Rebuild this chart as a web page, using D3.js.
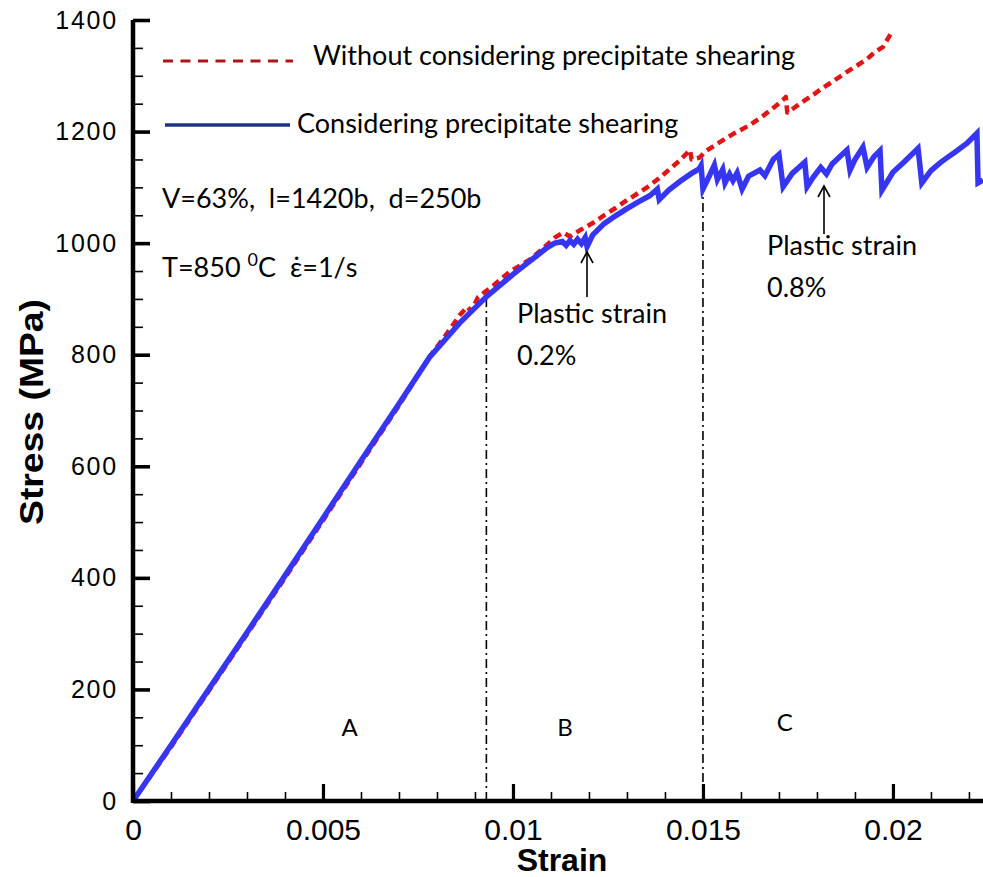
<!DOCTYPE html>
<html>
<head>
<meta charset="utf-8">
<script src="https://cdn.jsdelivr.net/npm/d3@7/dist/d3.min.js"></script>
<style>
  html, body { margin: 0; padding: 0; background: #fff; }
  svg { display: block; }
  .ann { font-family: Lato, "Open Sans", sans-serif; fill: #000; }
</style>
</head>
<body>
<svg id="chart" width="983" height="877"></svg>
<script>
// ---------- data ----------
const blueStrain = [0, 0.001, 0.002, 0.003, 0.004, 0.005, 0.006, 0.007, 0.0078, 0.0082, 0.0086, 0.009, 0.0093,
  0.0096, 0.0100, 0.0103, 0.0106, 0.0109, 0.0111, 0.0113, 0.0114, 0.0115, 0.0116, 0.0117, 0.0118, 0.0119, 0.01195,
  0.0121, 0.0124, 0.0127, 0.0130, 0.0133, 0.0136, 0.0138, 0.01385, 0.0141, 0.0144, 0.0147, 0.0149, 0.01495,
  0.0150, 0.01515, 0.0153, 0.01538, 0.01552, 0.01558, 0.0157, 0.01579, 0.0159, 0.01603, 0.0162, 0.0165, 0.01663,
  0.01685, 0.0170, 0.01711, 0.01735, 0.01768, 0.01774, 0.0179, 0.0181, 0.01825, 0.0184, 0.0186, 0.01879, 0.01887,
  0.0190, 0.01921, 0.01932, 0.0195, 0.01966, 0.01971, 0.0200, 0.0203, 0.02066, 0.02076, 0.0210, 0.02124, 0.0214,
  0.02163, 0.02195, 0.02221, 0.02224, 0.02237];
const blueStress = [0, 100, 201, 302, 404, 507, 610, 712, 795, 826, 857, 884, 904,
  921, 944, 960, 976, 992, 1000, 1003, 996, 1005, 998, 1007, 999, 1010, 994,
  1015, 1035, 1049, 1062, 1074, 1085, 1097, 1078, 1095, 1111, 1125, 1133, 1139,
  1097, 1118, 1140, 1114, 1132, 1108, 1124, 1112, 1126, 1097, 1120, 1131, 1121,
  1150, 1159, 1101, 1125, 1145, 1101, 1118, 1136, 1124, 1142, 1155, 1167, 1131,
  1150, 1172, 1136, 1155, 1166, 1095, 1127, 1146, 1170, 1108, 1130, 1144, 1152,
  1163, 1179, 1197, 1108, 1113];

const redStrain = [0, 0.001, 0.002, 0.003, 0.004, 0.005, 0.006, 0.007, 0.0078, 0.0082, 0.0086, 0.0088, 0.0089,
  0.00908, 0.0095, 0.0099, 0.01045, 0.0108, 0.0111, 0.01132, 0.0115, 0.01176, 0.0121, 0.0124, 0.0127, 0.0130,
  0.0133, 0.01355, 0.0138, 0.0141, 0.0144, 0.01466, 0.0147, 0.0149, 0.0151, 0.01537, 0.0158, 0.01624, 0.0166,
  0.0169, 0.01711, 0.01718, 0.01722, 0.01735, 0.01755, 0.0179, 0.01815, 0.01842, 0.01879, 0.0190, 0.01932,
  0.0195, 0.01974, 0.0200];
const redStress = [0, 97, 198, 299, 400, 503, 606, 709, 796, 832, 871, 886, 878,
  903, 925, 948, 971, 991, 1010, 1019, 1012, 1023, 1036, 1050, 1063, 1077,
  1090, 1101, 1114, 1131, 1149, 1167, 1150, 1153, 1166, 1178, 1196, 1212, 1229,
  1245, 1257, 1262, 1234, 1240, 1250, 1266, 1278, 1290, 1307, 1316, 1330,
  1341, 1352, 1382];

const xTickValues = [0, 0.005, 0.01, 0.015, 0.02];
const xTickLabels = ["0", "0.005", "0.01", "0.015", "0.02"];
const yTickValues = [0, 200, 400, 600, 800, 1000, 1200, 1400];
const yTickLabels = ["0", "200", "400", "600", "800", "1000", "1200", "1400"];
const xMinorTicks = d3.range(0, 0.0224, 0.001);
const yMinorTicks = d3.range(0, 1401, 50);

const zoneStrains = [0.0093, 0.015];
const zoneTops = [900, 1095];
const zoneLabels = ["A", "B", "C"];
const zoneLabelStrains = [0.0057, 0.01137, 0.01715];
const zoneLabelStress = [117, 117, 125];

const legendLabels = ["Without considering precipitate shearing", "Considering precipitate shearing"];
const paramText = "V=63%,  l=1420b,  d=250b";

// ---------- layout ----------
const svg = d3.select("#chart");
const x = d3.scaleLinear().domain([0, 0.02237]).range([133, 983]);
const y = d3.scaleLinear().domain([0, 1400]).range([801, 20]);

// zone separators (dash-dot)
zoneStrains.forEach((s, i) => {
  svg.append("line")
    .attr("x1", x(s)).attr("x2", x(s))
    .attr("y1", y(0)).attr("y2", y(zoneTops[i]))
    .attr("stroke", "#000").attr("stroke-width", 1.6)
    .attr("stroke-dasharray", "9,4,2,4");
});

// curves
const line = d3.line().x(d => x(d[0])).y(d => y(d[1]));
const redData = redStrain.map((s, i) => [s, redStress[i]]);
const blueData = blueStrain.map((s, i) => [s, blueStress[i]]);

svg.append("path").datum(redData).attr("d", line)
  .attr("fill", "none").attr("stroke", "#e01515").attr("stroke-width", 4.5)
  .attr("stroke-dasharray", "8,5").attr("stroke-linejoin", "round");
svg.append("path").datum(blueData).attr("d", line)
  .attr("fill", "none").attr("stroke", "#3535f2").attr("stroke-width", 5.5)
  .attr("stroke-linejoin", "miter");

// axes
const gx = svg.append("g").attr("transform", `translate(0,${y(0)})`);
gx.call(d3.axisTop(x).tickValues(xMinorTicks).tickSize(9).tickFormat(""));
gx.selectAll("line").attr("stroke-width", 1.6);
gx.select(".domain").remove();
const gxM = svg.append("g").attr("transform", `translate(0,${y(0)})`);
gxM.call(d3.axisTop(x).tickValues(xTickValues).tickSize(17).tickFormat(""));
gxM.selectAll("line").attr("stroke-width", 3.2);
gxM.select(".domain").remove();

const gy = svg.append("g").attr("transform", `translate(${x(0)},0)`);
gy.call(d3.axisRight(y).tickValues(yMinorTicks).tickSize(10).tickFormat(""));
gy.selectAll("line").attr("stroke-width", 1.6);
gy.select(".domain").remove();
const gyM = svg.append("g").attr("transform", `translate(${x(0)},0)`);
gyM.call(d3.axisRight(y).tickValues(yTickValues).tickSize(17).tickFormat(""));
gyM.selectAll("line").attr("stroke-width", 3.6);
gyM.select(".domain").remove();

// axis lines
svg.append("line").attr("x1", x(0)).attr("x2", 983).attr("y1", y(0)).attr("y2", y(0))
  .attr("stroke", "#000").attr("stroke-width", 4.5);
svg.append("line").attr("x1", x(0)).attr("x2", x(0)).attr("y1", y(1400)).attr("y2", y(0) + 2)
  .attr("stroke", "#000").attr("stroke-width", 4.5);

// tick labels
const gxl = svg.append("g").attr("transform", `translate(0,${y(0)})`);
gxl.call(d3.axisBottom(x).tickValues(xTickValues).tickSize(0).tickPadding(18)
  .tickFormat((d, i) => xTickLabels[i]));
gxl.select(".domain").remove();
gxl.selectAll("text").attr("font-family", "'Liberation Sans', Arial, sans-serif")
  .attr("font-size", 30).attr("fill", "#000");

const gyl = svg.append("g").attr("transform", `translate(${x(0)},0)`);
gyl.call(d3.axisLeft(y).tickValues(yTickValues).tickSize(0).tickPadding(15)
  .tickFormat((d, i) => yTickLabels[i]));
gyl.select(".domain").remove();
gyl.selectAll("text").attr("font-family", "'Liberation Sans', Arial, sans-serif")
  .attr("font-size", 25).attr("letter-spacing", 1.8).attr("fill", "#000");

// axis titles
svg.append("text").attr("x", 562).attr("y", 871).attr("text-anchor", "middle")
  .attr("font-family", "'Liberation Sans', Arial, sans-serif").attr("font-weight", "bold")
  .attr("font-size", 32).text("Strain");
svg.append("text").attr("transform", "translate(43,412) rotate(-90)").attr("text-anchor", "middle")
  .attr("font-family", "'Liberation Sans', Arial, sans-serif").attr("font-weight", "bold")
  .attr("font-size", 33).attr("textLength", 226).attr("lengthAdjust", "spacingAndGlyphs")
  .text("Stress (MPa)");

// legend
svg.append("line").attr("x1", 163).attr("x2", 293).attr("y1", 61).attr("y2", 61)
  .attr("stroke", "#a81818").attr("stroke-width", 3.2).attr("stroke-dasharray", "10,7.5");
svg.append("text").attr("class", "ann").attr("x", 313).attr("y", 65).attr("font-size", 27)
  .text(legendLabels[0]);
svg.append("line").attr("x1", 165).attr("x2", 290).attr("y1", 125).attr("y2", 125)
  .attr("stroke", "#1c3486").attr("stroke-width", 3.4);
svg.append("text").attr("class", "ann").attr("x", 297).attr("y", 133).attr("font-size", 27)
  .text(legendLabels[1]);

// parameters
svg.append("text").attr("class", "ann").attr("x", 162).attr("y", 208).attr("font-size", 27)
  .style("white-space", "pre").text(paramText);
const t2 = svg.append("text").attr("class", "ann").attr("x", 162).attr("y", 277).attr("font-size", 27)
  .style("white-space", "pre");
t2.append("tspan").text("T=850 ");
t2.append("tspan").attr("dy", -11).attr("font-size", 18).text("0");
t2.append("tspan").attr("dy", 11).text("C");
t2.append("tspan").attr("x", 290).text("\u03B5\u0307=1/s");

// zone labels
zoneLabels.forEach((lab, i) => {
  svg.append("text").attr("class", "ann").attr("x", x(zoneLabelStrains[i])).attr("y", y(zoneLabelStress[i]))
    .attr("text-anchor", "middle").attr("font-size", 24).text(lab);
});

// plastic strain annotations
function arrow(xp, y0, y1) {
  svg.append("line").attr("x1", xp).attr("x2", xp).attr("y1", y0).attr("y2", y1)
    .attr("stroke", "#000").attr("stroke-width", 1.6);
  svg.append("path").attr("d", `M${xp - 6},${y1 + 11} L${xp},${y1} L${xp + 6},${y1 + 11}`)
    .attr("fill", "none").attr("stroke", "#000").attr("stroke-width", 1.6);
}
arrow(587, 297, 252);
arrow(824, 234, 186);
svg.append("text").attr("class", "ann").attr("x", 517).attr("y", 323).attr("font-size", 27).text("Plastic strain");
svg.append("text").attr("class", "ann").attr("x", 517).attr("y", 365).attr("font-size", 27).text("0.2%");
svg.append("text").attr("class", "ann").attr("x", 767).attr("y", 255).attr("font-size", 27).text("Plastic strain");
svg.append("text").attr("class", "ann").attr("x", 767).attr("y", 297).attr("font-size", 27).text("0.8%");
</script>
</body>
</html>
